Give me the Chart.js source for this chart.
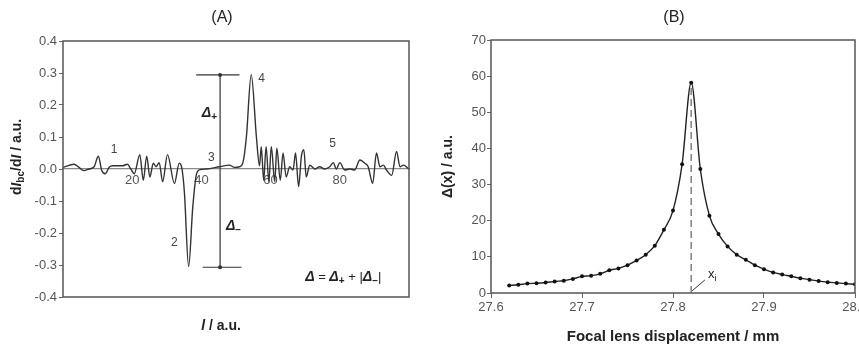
<!DOCTYPE html>
<html>
<head>
<meta charset="utf-8">
<script src="https://cdn.jsdelivr.net/npm/chart.js@4.4.0/dist/chart.umd.min.js"></script>
<style>
  body { margin: 0; background: #fff; }
  #wrap { position: relative; width: 859px; height: 347px; }
  .panel { position: absolute; top: 0; height: 347px; }
  #pa { left: 0; width: 430px; }
  #pb { left: 430px; width: 429px; }
</style>
</head>
<body>
<div id="wrap">
  <div class="panel" id="pa"><canvas id="chartA"></canvas></div>
  <div class="panel" id="pb"><canvas id="chartB"></canvas></div>
</div>
<script>
// panel A - derivative signal
const aX = [0, 3.2, 4.6, 6, 7.5, 9, 10.2, 11.2, 12.2, 13.3, 14.3, 17.2, 18.6, 19.6, 20.6,
  22.2, 23.2, 24.2, 25.1, 26.1, 26.9, 27.8, 28.8, 30.2, 32.2, 33.6, 34.4, 35.1, 36.3, 37.5,
  38.5, 39.4, 41.4, 45.2, 48.1, 49.6, 51, 52.0, 53.0, 54.4, 55.9, 56.8, 57.3, 58, 58.7,
  59.5, 60.2, 61.2, 61.8, 62.8, 63.6, 64.5, 65.5, 66.5, 67.2, 68.1, 68.9, 69.6, 70.3,
  71.3, 72.8, 74.2, 75.6, 77.1, 78.1, 79, 80, 81.4, 82.9, 84.3, 85.8, 87.2, 88.2, 89.5,
  90.6, 91.6, 92.6, 93.5, 95, 96.4, 97.4, 98.4, 100];
const aY = [0.005, 0.015, 0.005, -0.005, 0.0, 0.007, 0.04, -0.005, -0.015, 0.005, 0.01, 0.01, 0.015, 0.0, -0.015,
  0.045, -0.035, 0.04, -0.025, 0.018, 0.007, 0.02, -0.04, 0.045, -0.045, 0.018, 0.0, -0.075, -0.305, -0.12,
  -0.02, -0.003, 0.0, 0.007, 0.012, 0.005, 0.007, 0.02, 0.1, 0.295, 0.1, 0.01, 0.07, -0.035, 0.07,
  -0.04, 0.07, -0.04, 0.065, -0.035, 0.05, -0.025, 0.007, -0.003, 0.05, -0.055, 0.04, 0.06, -0.025,
  0.012, 0.0, 0.007, 0.0, 0.007, 0.02, 0.0, 0.02, -0.003, 0.0, -0.003, 0.028, 0.018, 0.007, -0.045,
  0.05, 0.007, 0.012, -0.003, -0.02, 0.055, 0.007, 0.012, 0.0];
const aXTicks = [20, 40, 60, 80];
const aYTicks = [-0.4, -0.3, -0.2, -0.1, 0.0, 0.1, 0.2, 0.3, 0.4];

// Delta bracket (data units)
const bracketX = 45.4;
const bracketTop = 0.294;
const bracketBottom = -0.307;
const capTop = [38.5, 51.0];
const capBottom = [40.4, 51.6];

// numbered labels in panel A
const peakLabels = [
  { t: '1', x: 14.8, y: 0.059 },
  { t: '2', x: 32.2, y: -0.231 },
  { t: '3', x: 42.9, y: 0.034 },
  { t: '4', x: 57.4, y: 0.281 },
  { t: '5', x: 77.9, y: 0.078 }
];

// panel B - focus scan
const bX = [27.62, 27.63, 27.64, 27.65, 27.66, 27.67, 27.68, 27.69, 27.70, 27.71, 27.72, 27.73, 27.74,
  27.75, 27.76, 27.77, 27.78, 27.79, 27.80, 27.81, 27.82, 27.83, 27.84, 27.85, 27.86, 27.87, 27.88,
  27.89, 27.90, 27.91, 27.92, 27.93, 27.94, 27.95, 27.96, 27.97, 27.98, 27.99, 28.00];
const bY = [2.1, 2.3, 2.6, 2.7, 2.9, 3.2, 3.4, 3.9, 4.6, 4.8, 5.3, 6.3, 6.8,
  7.7, 9.0, 10.6, 13.1, 17.5, 22.8, 35.6, 58.2, 34.3, 21.4, 16.3, 12.9, 10.6, 9.2,
  7.7, 6.6, 5.7, 5.1, 4.6, 4.1, 3.7, 3.3, 3.0, 2.8, 2.6, 2.4];
const xiX = 27.82;
const xiTop = 58.2;
const leaderX = [27.821, 27.835];
const leaderY = [0.6, 3.6];

const tickColor = '#555';
const textColor = '#222';
const tickFont = { family: 'Liberation Sans', size: 13 };

function pts(xs, ys) {
  return xs.map((x, i) => ({ x: x, y: ys[i] }));
}

// draws a run of text pieces with different fonts / baseline shifts
function drawParts(ctx, parts, x, y) {
  let w = 0;
  parts.forEach(p => { ctx.font = p.font; w += ctx.measureText(p.t).width; });
  let cx = x - w / 2;
  ctx.textAlign = 'left';
  ctx.textBaseline = 'middle';
  parts.forEach(p => {
    ctx.font = p.font;
    ctx.fillText(p.t, cx, y + (p.dy || 0));
    cx += ctx.measureText(p.t).width;
  });
}

const boxPlugin = {
  id: 'box',
  afterDraw(chart) {
    const a = chart.chartArea;
    const ctx = chart.ctx;
    ctx.save();
    ctx.strokeStyle = '#555';
    ctx.lineWidth = 1.5;
    ctx.strokeRect(a.left, a.top, a.right - a.left, a.bottom - a.top);
    ctx.restore();
  }
};

const textA = {
  id: 'textA',
  afterDraw(chart) {
    const ctx = chart.ctx;
    const xs = chart.scales.x, ys = chart.scales.y;
    ctx.save();
    ctx.fillStyle = textColor;
    ctx.textAlign = 'center';
    ctx.textBaseline = 'middle';
    ctx.font = '16px Liberation Sans';
    ctx.fillText('(A)', 222, 18);

    // numbers near the peaks
    ctx.fillStyle = '#444';
    ctx.font = '12px Liberation Sans';
    peakLabels.forEach(l => {
      ctx.fillText(l.t, xs.getPixelForValue(l.x), ys.getPixelForValue(l.y));
    });

    ctx.fillStyle = textColor;
    const it = 'italic bold 14px Liberation Sans';
    const sub = 'bold 10px Liberation Sans';
    drawParts(ctx, [{ t: 'Δ', font: it }, { t: '+', font: sub, dy: 4 }],
      xs.getPixelForValue(42.3), ys.getPixelForValue(0.175));
    drawParts(ctx, [{ t: 'Δ', font: it }, { t: '−', font: sub, dy: 4 }],
      xs.getPixelForValue(49.3), ys.getPixelForValue(-0.18));
    const nf = '13px Liberation Sans';
    drawParts(ctx, [
      { t: 'Δ', font: it }, { t: ' = ', font: nf }, { t: 'Δ', font: it }, { t: '+', font: sub, dy: 4 },
      { t: ' + |', font: nf }, { t: 'Δ', font: it }, { t: '−', font: sub, dy: 4 }, { t: '|', font: nf }
    ], xs.getPixelForValue(81), ys.getPixelForValue(-0.3375));

    // axis titles
    const tb = 'bold 14px Liberation Sans';
    const ti = 'italic bold 14px Liberation Sans';
    drawParts(ctx, [{ t: 'l', font: ti }, { t: ' / a.u.', font: tb }], 221, 326);
    ctx.translate(17, 157);
    ctx.rotate(-Math.PI / 2);
    drawParts(ctx, [
      { t: 'd', font: tb }, { t: 'I', font: ti }, { t: 'bc', font: 'bold 10px Liberation Sans', dy: 4 },
      { t: '/d', font: tb }, { t: 'I', font: ti }, { t: ' / a.u.', font: tb }
    ], 0, 0);
    ctx.restore();
  }
};

const textB = {
  id: 'textB',
  afterDraw(chart) {
    const ctx = chart.ctx;
    const xs = chart.scales.x, ys = chart.scales.y;
    ctx.save();
    ctx.fillStyle = textColor;
    ctx.textAlign = 'center';
    ctx.textBaseline = 'middle';
    ctx.font = '16px Liberation Sans';
    ctx.fillText('(B)', 244, 18);
    drawParts(ctx, [
      { t: 'x', font: '13px Liberation Sans' },
      { t: 'i', font: '9px Liberation Sans', dy: 4 }
    ], xs.getPixelForValue(27.843), ys.getPixelForValue(5.2));
    ctx.restore();
  }
};

window.onload = function() {
  new Chart(document.getElementById('chartA').getContext('2d'), {
    type: 'scatter',
    data: {
      datasets: [
        {
          data: pts(aX, aY),
          showLine: true,
          borderColor: '#333',
          borderWidth: 1.4,
          pointRadius: 0,
          cubicInterpolationMode: 'monotone',
          order: 0
        },
        {
          data: [{ x: bracketX, y: bracketTop }, { x: bracketX, y: bracketBottom }],
          showLine: true,
          borderColor: '#333',
          borderWidth: 1.2,
          pointRadius: 2,
          pointBackgroundColor: '#333',
          pointBorderWidth: 0,
          order: 1
        },
        {
          data: [{ x: capTop[0], y: bracketTop }, { x: capTop[1], y: bracketTop }],
          showLine: true,
          borderColor: '#333',
          borderWidth: 1.2,
          pointRadius: 0,
          order: 1
        },
        {
          data: [{ x: capBottom[0], y: bracketBottom }, { x: capBottom[1], y: bracketBottom }],
          showLine: true,
          borderColor: '#333',
          borderWidth: 1.2,
          pointRadius: 0,
          order: 1
        }
      ]
    },
    options: {
      responsive: true,
      maintainAspectRatio: false,
      animation: false,
      layout: { padding: { top: 41, right: 21, bottom: 50, left: 0 } },
      plugins: { legend: { display: false }, tooltip: { enabled: false } },
      scales: {
        x: {
          type: 'linear',
          position: { y: 0 },
          min: 0,
          max: 100,
          afterBuildTicks: s => { s.ticks = aXTicks.map(v => ({ value: v })); },
          grid: { display: false, drawTicks: false },
          border: { display: true, color: '#888', width: 1.2 },
          ticks: { color: tickColor, font: tickFont, padding: 4 },
          afterFit: s => { s.paddingLeft = 0; s.paddingRight = 0; }
        },
        y: {
          min: -0.4,
          max: 0.4,
          afterBuildTicks: s => { s.ticks = aYTicks.map(v => ({ value: v })); },
          grid: { drawOnChartArea: false, tickLength: 4, color: '#666' },
          border: { display: false },
          ticks: { color: tickColor, font: tickFont, padding: 2, callback: v => v.toFixed(1) },
          afterFit: s => { s.width = 63; }
        }
      }
    },
    plugins: [boxPlugin, textA]
  });

  new Chart(document.getElementById('chartB').getContext('2d'), {
    type: 'scatter',
    data: {
      datasets: [
        {
          data: pts(bX, bY),
          showLine: true,
          borderColor: '#222',
          borderWidth: 1.4,
          pointRadius: 2,
          pointBackgroundColor: '#111',
          pointBorderWidth: 0,
          cubicInterpolationMode: 'monotone',
          order: 0
        },
        {
          data: [{ x: xiX, y: 0 }, { x: xiX, y: xiTop }],
          showLine: true,
          borderColor: '#888',
          borderWidth: 1.6,
          borderDash: [7, 4],
          pointRadius: 0,
          order: 1
        },
        {
          data: pts(leaderX, leaderY),
          showLine: true,
          borderColor: '#333',
          borderWidth: 1,
          pointRadius: 0,
          order: 1
        }
      ]
    },
    options: {
      responsive: true,
      maintainAspectRatio: false,
      animation: false,
      layout: { padding: { top: 40, right: 2, bottom: 0, left: 10 } },
      plugins: { legend: { display: false }, tooltip: { enabled: false } },
      scales: {
        x: {
          type: 'linear',
          min: 27.6,
          max: 28.0,
          ticks: { stepSize: 0.1, color: tickColor, font: tickFont, padding: 2, callback: v => v.toFixed(1) },
          grid: { drawOnChartArea: false, tickLength: 5, color: '#666' },
          border: { display: false },
          title: {
            display: true,
            text: 'Focal lens displacement / mm',
            color: textColor,
            font: { family: 'Liberation Sans', size: 15, weight: 'bold' },
            padding: { top: 0, bottom: 1 }
          },
          afterFit: s => { s.height = 54; s.paddingLeft = 0; s.paddingRight = 0; }
        },
        y: {
          min: 0,
          max: 70,
          ticks: { stepSize: 10, color: tickColor, font: tickFont, padding: 1 },
          grid: { drawOnChartArea: false, tickLength: 4, color: '#666' },
          border: { display: false },
          title: {
            display: true,
            text: 'Δ(x) / a.u.',
            color: textColor,
            font: { family: 'Liberation Sans', size: 14, weight: 'bold' },
            padding: 0
          },
          afterFit: s => { s.width = 51; }
        }
      }
    },
    plugins: [boxPlugin, textB]
  });
};
</script>
</body>
</html>
